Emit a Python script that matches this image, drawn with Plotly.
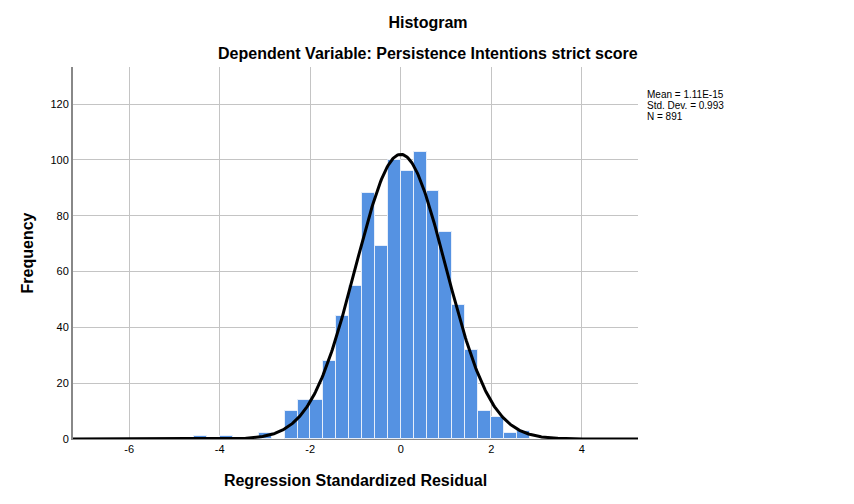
import numpy as np
import plotly.graph_objects as go

bin_width = 0.285
bin_centers = [-4.4175, -3.8475, -2.9925, -2.4225, -2.1375, -1.8525, -1.5675,
               -1.2825, -0.9975, -0.7125, -0.4275, -0.1425, 0.1425, 0.4275,
               0.7125, 0.9975, 1.2825, 1.5675, 1.8525, 2.1375, 2.4225, 2.7075]
counts = [1, 1, 2, 10, 14, 14, 28, 44, 55, 88, 69, 100, 96, 103, 89, 74,
          48, 32, 10, 8, 2, 3]

# fitted normal curve parameters
mean = 1.11e-15
std_dev = 0.993
n = 891

stats_lines = ["Mean = 1.11E-15", "Std. Dev. = 0.993", "N = 891"]
x_ticks = [-6, -4, -2, 0, 2, 4]
x_tick_text = ["-6", "-4", "-2", "0", "2", "4"]
y_ticks = [0, 20, 40, 60, 80, 100, 120]

x_range = [-7.24, 5.24]
y_range = [0, 133.3]

xs = np.linspace(x_range[0], x_range[1], 600)
curve = n * bin_width / (std_dev * np.sqrt(2 * np.pi)) * np.exp(-0.5 * ((xs - mean) / std_dev) ** 2)

# the page body has an 8px margin, so the figure is placed 8px in
W, H = 846, 496
off = 8

fig = go.Figure()

fig.add_trace(go.Bar(
    x=bin_centers,
    y=counts,
    width=bin_width,
    marker=dict(color='#5592e2', line=dict(color='#e6eefa', width=1)),
    showlegend=False
))

fig.add_trace(go.Scatter(
    x=xs,
    y=curve,
    mode='lines',
    line=dict(color='black', width=3),
    showlegend=False,
    cliponaxis=False
))

fig.update_layout(
    width=W,
    height=H,
    margin=dict(l=73 - off, r=854 - 638, t=67 - off, b=504 - 439),
    plot_bgcolor='white',
    paper_bgcolor='white',
    font=dict(family='Arial, Liberation Sans, sans-serif', size=11, color='black'),
    bargap=0,
    title=dict(
        text='<b>Histogram</b>',
        x=(428 - off) / W, xref='container', xanchor='center',
        y=1 - (22 - off) / H, yref='container', yanchor='middle',
        font=dict(size=16, color='black')
    ),
    xaxis=dict(
        range=x_range,
        tickvals=x_ticks,
        ticktext=x_tick_text,
        ticks='',
        showgrid=True,
        gridcolor='#c4c4c4',
        gridwidth=1,
        zeroline=False,
        showline=True,
        linecolor='#888888',
        linewidth=1,
        title=dict(text='<b>Regression Standardized Residual</b>',
                   font=dict(size=16), standoff=20),
    ),
    yaxis=dict(
        range=y_range,
        tickvals=y_ticks,
        ticks='',
        showgrid=True,
        gridcolor='#c4c4c4',
        gridwidth=1,
        zeroline=False,
        showline=True,
        linecolor='#888888',
        linewidth=2,
        title=dict(text='<b>Frequency</b>', font=dict(size=16), standoff=13),
    ),
)

# subtitle
fig.add_annotation(
    text='<b>Dependent Variable: Persistence Intentions strict score</b>',
    xref='paper', yref='paper',
    x=(428 - 73) / 565, y=(439 - 53) / 372,
    xanchor='center', yanchor='middle',
    showarrow=False,
    font=dict(size=16, color='black')
)

# stats box
for i, line in enumerate(stats_lines):
    fig.add_annotation(
        text=line,
        xref='paper', yref='paper',
        x=(645 - 73) / 565, y=(439 - (94 + 11 * i)) / 372,
        xanchor='left', yanchor='middle',
        showarrow=False,
        font=dict(size=10, color='black')
    )

fig.write_html("out.html")
